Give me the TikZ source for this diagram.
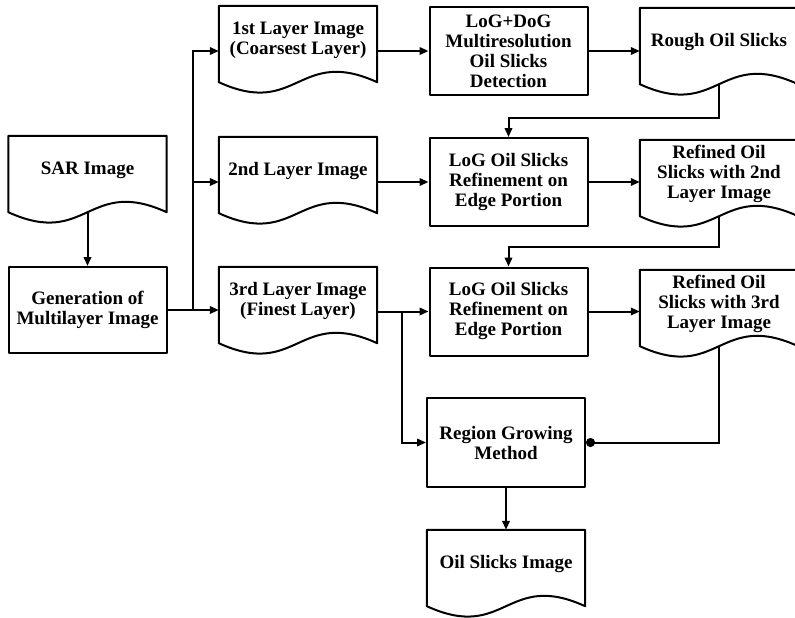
\documentclass[tikz,border=0pt]{standalone}
\usepackage{fontspec}
\setmainfont{Liberation Serif}
\usetikzlibrary{arrows.meta}
\newcommand\docout[1]{\draw[shapeline] (#1.north west) -- ([yshift=-8pt]#1.south west) .. controls +(79pt,-36pt) and +(-79pt,36pt) .. ([yshift=-8pt]#1.south east) -- (#1.north east) -- cycle;}
\begin{document}
\begin{tikzpicture}[x=1pt,y=-1pt,
  every node/.style={font=\bfseries\fontsize{19}{20}\selectfont, align=center, inner sep=0pt},
  shapeline/.style={line width=2pt, line join=round},
  boxn/.style={draw, shapeline, minimum width=158pt, minimum height=88pt},
  docn/.style={minimum width=158pt, minimum height=68pt},
  conn/.style={line width=2pt},
  arr/.style={conn, -{Triangle[length=9pt,width=7.5pt]}},
  dotend/.style={conn, -{Circle[length=9pt]}}]
\useasboundingbox (0,0) rectangle (795,618);
\fill[white] (0,0) rectangle (795,618);
\clip (0,0) rectangle (795,618);
% nodes
\node[docn] (sar) at (87.5,170) {SAR Image};
\node[boxn, minimum height=86pt] (gen) at (87.5,310) {Generation of\\Multilayer Image};
\node[docn] (l1) at (298,40) {1st Layer Image\\(Coarsest Layer)};
\node[docn] (l2) at (298,171) {2nd Layer Image};
\node[docn] (l3) at (298,301) {3rd Layer Image\\(Finest Layer)};
\node[boxn] (dog) at (508.5,51) {LoG+DoG\\Multiresolution\\Oil Slicks\\Detection};
\node[boxn] (log2) at (508.5,182) {LoG Oil Slicks\\Refinement on\\Edge Portion};
\node[boxn] (log3) at (508.5,311.5) {LoG Oil Slicks\\Refinement on\\Edge Portion};
\node[docn] (rough) at (719,42) {Rough Oil Slicks};
\node[docn] (ref2) at (719,174) {Refined Oil\\Slicks with 2nd\\Layer Image};
\node[docn] (ref3) at (719,304) {Refined Oil\\Slicks with 3rd\\Layer Image};
\node[boxn, minimum height=89pt] (rg) at (506,442.5) {Region Growing\\Method};
\node[docn] (oil) at (506,564) {Oil Slicks Image};
\docout{sar}\docout{l1}\docout{l2}\docout{l3}
\docout{rough}\docout{ref2}\docout{ref3}\docout{oil}
% coordinates
\coordinate (tb) at (193,310);
\coordinate (k1) at (508.5,118);
\coordinate (k2) at (508.5,247);
\coordinate (br) at (402,311.5);
% connectors
\draw[arr] ([yshift=-8pt]sar.south) -- (gen.north);
\draw[arr] (gen.east) -- (gen.east -| l3.west);
\draw[arr] (tb) |- (l1.west |- dog.west);
\draw[arr] (tb) |- (l2.west |- log2.west);
\draw[arr] (dog.west -| l1.east) -- (dog.west);
\draw[arr] (dog.east) -- (dog.east -| rough.west);
\draw[arr] ([yshift=-8pt]rough.south) |- (k1) -- (log2.north);
\draw[arr] (log2.west -| l2.east) -- (log2.west);
\draw[arr] (log2.east) -- (log2.east -| ref2.west);
\draw[arr] ([yshift=-8pt]ref2.south) |- (k2) -- (log3.north);
\draw[arr] (log3.west -| l3.east) -- (log3.west);
\draw[arr] (br) |- (rg.west);
\draw[arr] (log3.east) -- (log3.east -| ref3.west);
\draw[dotend] ([yshift=-8pt]ref3.south) |- (rg.east);
\draw[arr] (rg.south) -- (oil.north);
\end{tikzpicture}
\end{document}
